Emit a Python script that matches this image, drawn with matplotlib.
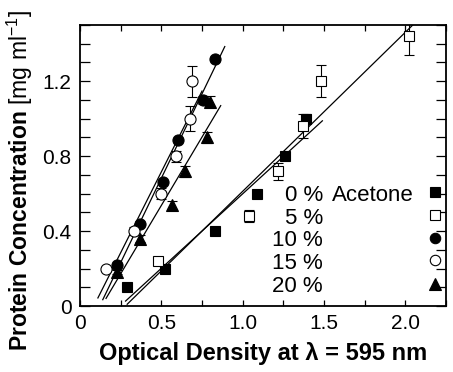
import numpy as np
import matplotlib
matplotlib.use("Agg")
from matplotlib import pyplot as plt
from matplotlib.ticker import MultipleLocator, FixedLocator

plt.rcParams['font.family'] = ['Liberation Sans', 'DejaVu Sans']
plt.rcParams['mathtext.fontset'] = 'custom'
plt.rcParams['mathtext.rm'] = 'Liberation Sans'
plt.rcParams['mathtext.bf'] = 'Liberation Sans:bold'
plt.rcParams['mathtext.it'] = 'Liberation Sans:italic'

# optical density / protein concentration per acetone content
labels = ["0 %", "5 %", "10 %", "15 %", "20 %"]

od_0 = [0.29, 0.52, 0.83, 1.09, 1.26, 1.39]
conc_0 = [0.10, 0.20, 0.40, 0.60, 0.80, 1.00]
err_0 = [0.0, 0.01, 0.0, 0.0, 0.015, 0.025]

od_5 = [0.48, 1.04, 1.22, 1.37, 1.48, 2.02]
conc_5 = [0.24, 0.48, 0.72, 0.96, 1.20, 1.44]
err_5 = [0.02, 0.03, 0.045, 0.065, 0.085, 0.10]

od_10 = [0.23, 0.37, 0.51, 0.60, 0.755, 0.83]
conc_10 = [0.22, 0.44, 0.66, 0.885, 1.10, 1.32]
err_10 = [0.01, 0.01, 0.01, 0.01, 0.02, 0.01]

od_15 = [0.16, 0.33, 0.50, 0.59, 0.675, 0.69]
conc_15 = [0.20, 0.40, 0.60, 0.80, 1.00, 1.20]
err_15 = [0.01, 0.02, 0.03, 0.03, 0.065, 0.083]

od_20 = [0.23, 0.37, 0.565, 0.645, 0.78, 0.80]
conc_20 = [0.18, 0.36, 0.54, 0.72, 0.90, 1.09]
err_20 = [0.01, 0.02, 0.02, 0.03, 0.03, 0.03]

# x span of each regression line
fit_lo = [0.28, 0.29, 0.14, 0.11, 0.16]
fit_hi = [1.49, 2.05, 0.89, 0.75, 0.865]

series = [(od_0, conc_0, err_0), (od_5, conc_5, err_5), (od_10, conc_10, err_10),
          (od_15, conc_15, err_15), (od_20, conc_20, err_20)]
markers = ['s', 's', 'o', 'o', '^']
faces = ['black', 'white', 'black', 'white', 'black']
sizes = [7, 7, 8, 8, 8.5]

fig = plt.figure(figsize=(4.53, 3.72), dpi=100)
ax = fig.add_axes([80 / 453, 66 / 372, 366 / 453, 281 / 372])

for i, (x, y, e) in enumerate(series):
    k, b = np.polyfit(x, y, 1)
    xl = np.array([fit_lo[i], fit_hi[i]])
    ax.plot(xl, k * xl + b, color='black', lw=0.9, zorder=2)
    ax.errorbar(x, y, yerr=e, fmt=markers[i], ms=sizes[i], mfc=faces[i],
                mec='black', mew=0.8, ecolor='black', elinewidth=0.8,
                capsize=3.5, capthick=0.8, zorder=3)

ax.set_xlim(0, 2.25)
ax.set_ylim(0, 1.5)
ax.xaxis.set_major_locator(FixedLocator([0, 0.5, 1.0, 1.5, 2.0]))
ax.xaxis.set_minor_locator(MultipleLocator(0.25))
ax.yaxis.set_major_locator(FixedLocator([0, 0.4, 0.8, 1.2]))
ax.yaxis.set_minor_locator(MultipleLocator(0.1))
ax.set_xticklabels(["0", "0.5", "1.0", "1.5", "2.0"])
ax.set_yticklabels(["0", "0.4", "0.8", "1.2"])
ax.tick_params(which='both', direction='in', top=True, right=True,
               labelsize=15, width=0.9, pad=6)
ax.tick_params(axis='x', which='both', length=4)
ax.tick_params(axis='y', which='both', length=7)
for s in ax.spines.values():
    s.set_linewidth(1.3)

ax.set_xlabel("Optical Density at \u03bb = 595 nm", fontsize=17,
              fontweight='bold', labelpad=6)
ax.set_ylabel(r"$\mathbf{Protein\ Concentration}$ [mg ml$^{-1}$]",
              fontsize=16.5)
ax.yaxis.set_label_coords(-0.122, 0.445)

# key: right-aligned labels with the symbols in a column on the right
row_y = [0.395, 0.313, 0.233, 0.152, 0.068]
for i in range(5):
    ax.text(0.664, row_y[i], labels[i], transform=ax.transAxes,
            ha='right', va='center', fontsize=16)
    ax.plot([0.970], [row_y[i] + 0.01], marker=markers[i], ms=sizes[i] - 0.5,
            mfc=faces[i], mec='black', mew=0.8, ls='none',
            transform=ax.transAxes, clip_on=False)
ax.text(0.689, row_y[0], "Acetone", transform=ax.transAxes,
        ha='left', va='center', fontsize=16)

fig.savefig("out.png", dpi=100)
